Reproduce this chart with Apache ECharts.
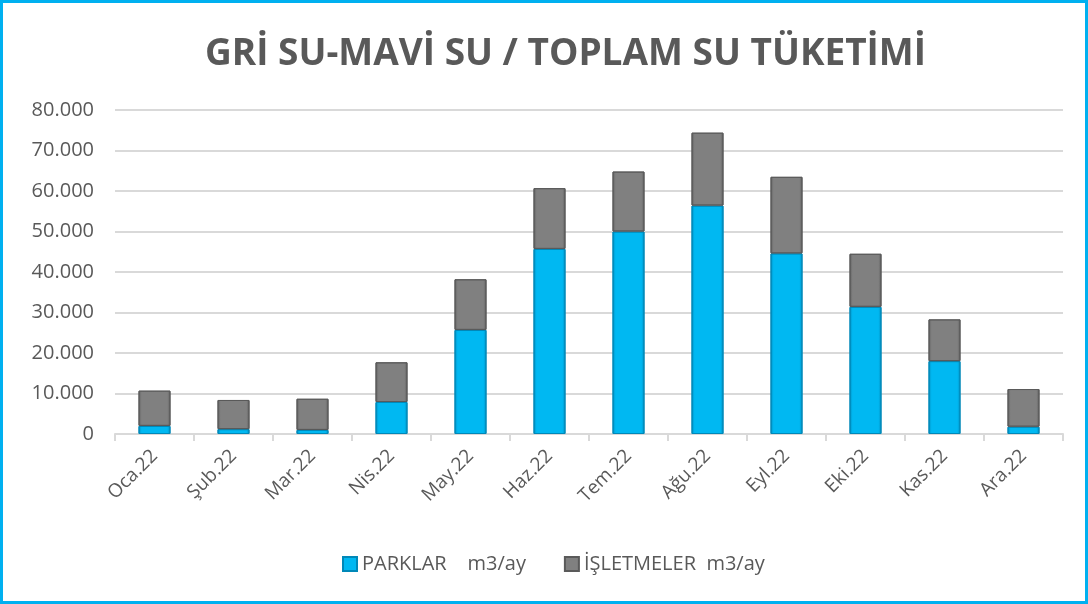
<!DOCTYPE html>
<html>
<head>
<meta charset="utf-8">
<title>Gri Su - Mavi Su</title>
<script src="https://cdn.jsdelivr.net/npm/echarts@6/dist/echarts.min.js"></script>
<style>
  html, body { margin: 0; padding: 0; background: #fff; }
  #chart { width: 1082px; height: 598px; border: 3px solid #00B0F0; }
</style>
</head>
<body>
<div id="chart"></div>
<script>
// aylar
var months = ['Oca.22', 'Şub.22', 'Mar.22', 'Nis.22', 'May.22', 'Haz.22',
              'Tem.22', 'Ağu.22', 'Eyl.22', 'Eki.22', 'Kas.22', 'Ara.22'];
// m3/ay
var parklar = [2000, 1200, 1000, 7900, 25700, 45700, 50000, 56400, 44600, 31400, 18000, 1800];
var isletmeler = [8700, 7200, 7700, 9800, 12500, 15000, 14800, 18000, 18900, 13100, 10300, 9300];

var chart = echarts.init(document.getElementById('chart'));

function bevel(mid, edge) {
    return new echarts.graphic.LinearGradient(0, 0, 1, 0, [
        { offset: 0, color: edge },
        { offset: 0.1, color: mid },
        { offset: 0.9, color: mid },
        { offset: 1, color: edge }
    ]);
}

var option = {
    backgroundColor: '#fff',
    title: {
        text: 'GRİ SU-MAVİ SU / TOPLAM SU TÜKETİMİ',
        left: 197,
        top: 28,
        textStyle: {
            fontFamily: 'Open Sans',
            fontSize: 37,
            fontWeight: 'bold',
            color: '#595959'
        }
    },
    legend: {
        bottom: 22,
        left: 334,
        itemWidth: 14,
        itemHeight: 14,
        itemGap: 38,
        icon: 'rect',
        textStyle: { fontFamily: 'Open Sans', fontSize: 20, color: '#595959' },
        data: ['PARKLAR    m3/ay', 'İŞLETMELER  m3/ay']
    },
    grid: { left: 112, right: 22, top: 107, bottom: 167 },
    xAxis: {
        type: 'category',
        data: months,
        axisLine: { lineStyle: { color: '#D9D9D9', width: 2 } },
        axisTick: { show: true, length: 7, lineStyle: { color: '#D9D9D9', width: 2 } },
        axisLabel: {
            rotate: 45,
            margin: 19,
            fontFamily: 'Open Sans',
            fontSize: 19,
            color: '#595959'
        }
    },
    yAxis: {
        type: 'value',
        min: 0,
        max: 80000,
        interval: 10000,
        axisLine: { show: false },
        axisTick: { show: false },
        splitLine: { lineStyle: { color: '#D9D9D9', width: 2 } },
        axisLabel: {
            margin: 21,
            fontFamily: 'Open Sans',
            fontSize: 20,
            color: '#595959',
            formatter: function (v) {
                return v.toString().replace(/\B(?=(\d{3})+(?!\d))/g, '.');
            }
        }
    },
    series: [
        {
            name: 'PARKLAR    m3/ay',
            type: 'bar',
            stack: 'toplam',
            barWidth: 32,
            data: parklar,
            itemStyle: {
                color: bevel('#00B8F2', '#0092C4'),
                borderColor: '#0088B8',
                borderWidth: 1
            }
        },
        {
            name: 'İŞLETMELER  m3/ay',
            type: 'bar',
            stack: 'toplam',
            barWidth: 32,
            data: isletmeler,
            itemStyle: {
                color: bevel('#808080', '#626262'),
                borderColor: '#5A5A5A',
                borderWidth: 1
            }
        }
    ]
};

chart.setOption(option);
</script>
</body>
</html>
